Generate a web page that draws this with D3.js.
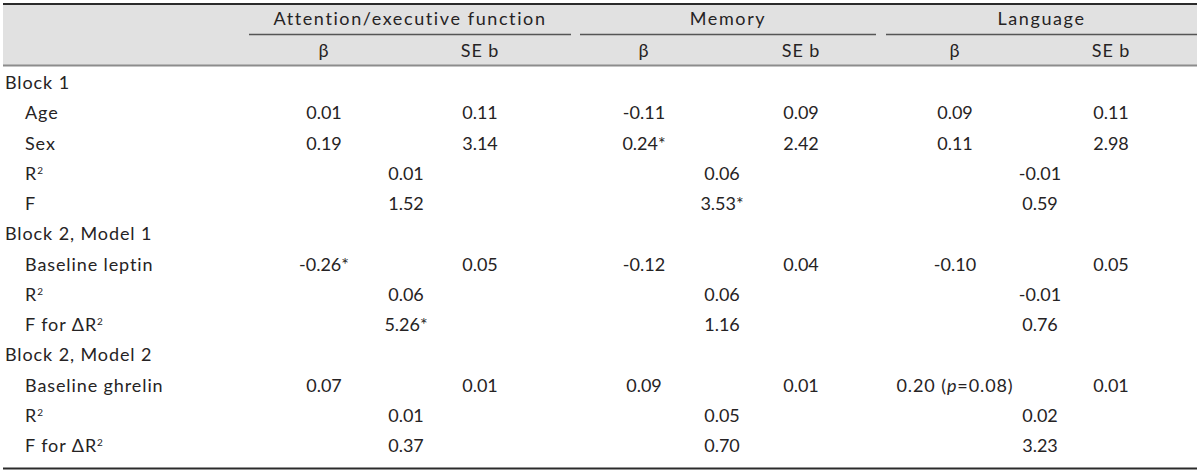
<!DOCTYPE html>
<html>
<head>
<meta charset="utf-8">
<script src="https://cdn.jsdelivr.net/npm/d3@7"></script>
<style>
  body { margin: 0; background: #fff; }
  svg text { font-family: Lato, "Open Sans", sans-serif; font-size: 18px; fill: #262324; }
  svg text.word { letter-spacing: 0.9px; }
  svg text.group { letter-spacing: 1.6px; }
</style>
</head>
<body>
<div id="Table"></div>
<script>
// column groups and sub headers
var groups = ["Attention/executive function", "Memory", "Language"];
var subHeads = ["β", "SE b"];

// row labels (R2 written with a trailing 2 = superscript)
var rowLabels = ["Block 1", "Age", "Sex", "R2", "F",
                 "Block 2, Model 1", "Baseline leptin", "R2", "F for ΔR2",
                 "Block 2, Model 2", "Baseline ghrelin", "R2", "F for ΔR2"];
var rowTypes = ["block", "coef", "coef", "stat", "stat",
                "block", "coef", "stat", "stat",
                "block", "coef", "stat", "stat"];

// coefficient rows: Age, Sex, Baseline leptin, Baseline ghrelin
var betaAttn = ["0.01", "0.19", "-0.26*", "0.07"];
var seAttn   = ["0.11", "3.14", "0.05", "0.01"];
var betaMem  = ["-0.11", "0.24*", "-0.12", "0.09"];
var seMem    = ["0.09", "2.42", "0.04", "0.01"];
var betaLang = ["0.09", "0.11", "-0.10", "0.20 (p=0.08)"];
var seLang   = ["0.11", "2.98", "0.05", "0.01"];

// model stat rows: R2, F, R2, F for dR2, R2, F for dR2
var statAttn = ["0.01", "1.52", "0.06", "5.26*", "0.01", "0.37"];
var statMem  = ["0.06", "3.53*", "0.06", "1.16", "0.05", "0.70"];
var statLang = ["-0.01", "0.59", "-0.01", "0.76", "0.02", "3.23"];

var width = 1200, height = 472;
var left = 3, right = 1197;

var svg = d3.select("#Table").append("svg")
  .attr("width", width)
  .attr("height", height);

var betaCols = [betaAttn, betaMem, betaLang];
var seCols = [seAttn, seMem, seLang];
var statCols = [statAttn, statMem, statLang];

// column centres
var colX = d3.scaleOrdinal()
  .domain(["b0", "s0", "m0", "b1", "s1", "m1", "b2", "s2", "m2"])
  .range([324, 480, 406, 644, 801, 722, 955, 1111, 1040]);
var groupSpan = [[249, 571], [580, 876], [886, 1197]];

var rowY = d3.scalePoint()
  .domain(d3.range(rowLabels.length))
  .range([82.5, 445.5]);

// header background
svg.append("rect")
  .attr("x", left).attr("y", 4)
  .attr("width", right - left).attr("height", 62)
  .attr("fill", "#e1e1e1");

svg.append("line")
  .attr("x1", left).attr("x2", right)
  .attr("y1", 4).attr("y2", 4)
  .attr("stroke", "#2b2b2b").attr("stroke-width", 2);

svg.append("line")
  .attr("x1", left).attr("x2", right)
  .attr("y1", 65.5).attr("y2", 65.5)
  .attr("stroke", "#8c8c8c").attr("stroke-width", 2);

svg.append("line")
  .attr("x1", left).attr("x2", right)
  .attr("y1", 468.5).attr("y2", 468.5)
  .attr("stroke", "#2b2b2b").attr("stroke-width", 2);

// group headers
var g = svg.selectAll(".grp")
  .data(groups)
  .enter().append("g")
    .attr("class", "grp");

g.append("text")
  .attr("class", "group")
  .attr("x", function(d, i) { return (groupSpan[i][0] + groupSpan[i][1]) / 2; })
  .attr("y", 24.5)
  .attr("text-anchor", "middle")
  .text(function(d) { return d; });

g.append("line")
  .attr("x1", function(d, i) { return groupSpan[i][0]; })
  .attr("x2", function(d, i) { return groupSpan[i][1]; })
  .attr("y1", 34.5).attr("y2", 34.5)
  .attr("stroke", "#555").attr("stroke-width", 1.3);

groups.forEach(function(d, i) {
  svg.append("text")
    .attr("class", "word")
    .attr("x", colX("b" + i)).attr("y", 56.5)
    .attr("text-anchor", "middle")
    .text(subHeads[0]);
  svg.append("text")
    .attr("class", "word")
    .attr("x", colX("s" + i)).attr("y", 56.5)
    .attr("text-anchor", "middle")
    .text(subHeads[1]);
});

// writes a label, turning a trailing "R2" into R with superscript 2
function label(sel, s) {
  sel.attr("class", "word");
  if (/R2$/.test(s)) {
    sel.append("tspan").text(s.slice(0, -1));
    sel.append("tspan")
      .attr("dy", -6)
      .style("font-size", "10px")
      .text("2");
  } else {
    sel.text(s);
  }
}

// writes a value, with the p in "(p=...)" in italics
function value(sel, s) {
  var m = s.match(/^(.*\()p(=.*)$/);
  if (m) {
    sel.attr("class", "word");
    sel.append("tspan").text(m[1]);
    sel.append("tspan").style("font-style", "italic").text("p");
    sel.append("tspan").text(m[2]);
  } else {
    sel.text(s);
  }
}

var coefIdx = 0, statIdx = 0;
rowLabels.forEach(function(d, r) {
  var y = rowY(r) + 6.5;
  var type = rowTypes[r];
  label(svg.append("text")
    .attr("x", type == "block" ? 5 : 25)
    .attr("y", y), d);

  if (type == "coef") {
    var k = coefIdx++;
    groups.forEach(function(gr, i) {
      value(svg.append("text")
        .attr("x", colX("b" + i)).attr("y", y)
        .attr("text-anchor", "middle"), betaCols[i][k]);
      value(svg.append("text")
        .attr("x", colX("s" + i)).attr("y", y)
        .attr("text-anchor", "middle"), seCols[i][k]);
    });
  } else if (type == "stat") {
    var j = statIdx++;
    groups.forEach(function(gr, i) {
      svg.append("text")
        .attr("x", colX("m" + i)).attr("y", y)
        .attr("text-anchor", "middle")
        .text(statCols[i][j]);
    });
  }
});
</script>
</body>
</html>
